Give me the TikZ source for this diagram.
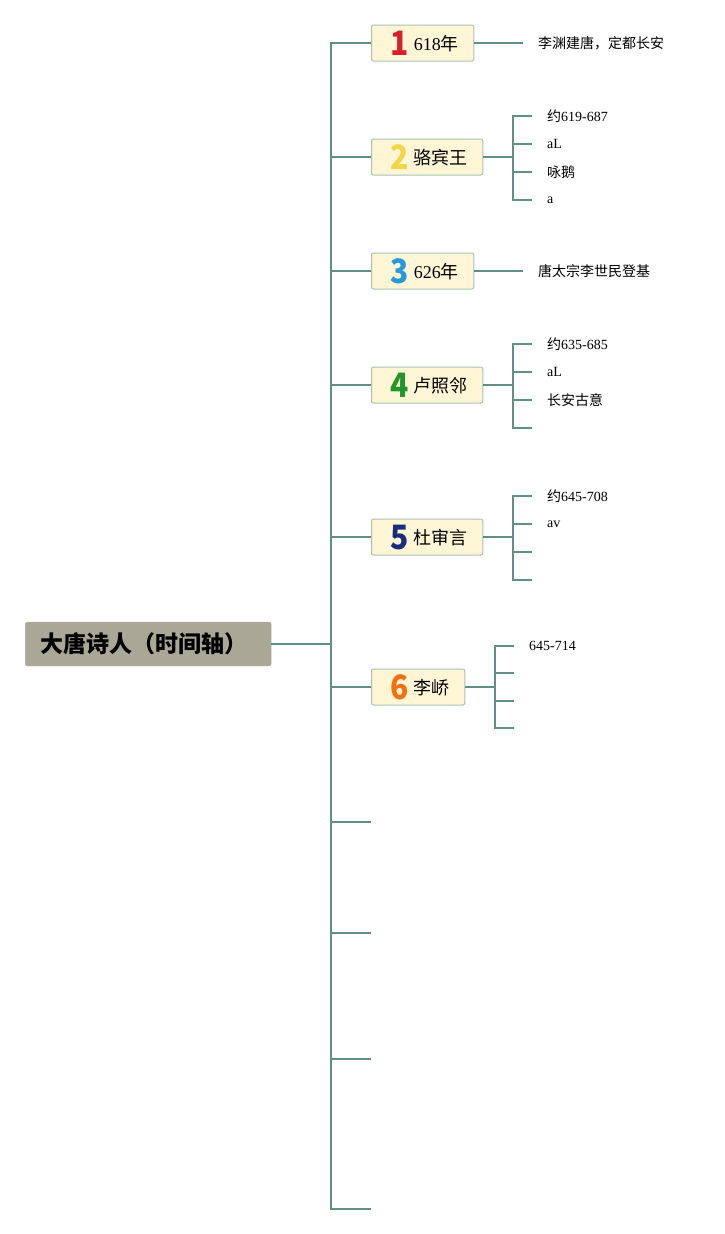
\documentclass[tikz,border=0pt]{standalone}
\usepackage{fontspec}
\usepackage{xcolor}
\setmainfont{Liberation Serif}
\newfontfamily\cjk{Noto Sans CJK SC}
\newcommand{\zh}[1]{{\cjk #1}}
\newcommand{\badge}[2]{\hspace{4pt}\smash{\raisebox{-4.5pt}{\scalebox{1}[1.12]{\cjk\bfseries\fontsize{30}{30}\selectfont\color{#1}#2}}}\hspace{5pt}}
\definecolor{branchline}{HTML}{5F8F86}
\definecolor{rootfill}{HTML}{A9A897}
\definecolor{boxfill}{HTML}{FFF6D6}
\definecolor{boxline}{HTML}{A5C2B3}
\definecolor{numA}{HTML}{D8202C}
\definecolor{numB}{HTML}{F4D449}
\definecolor{numC}{HTML}{2898D6}
\definecolor{numD}{HTML}{22962A}
\definecolor{numE}{HTML}{1C2C7C}
\definecolor{numF}{HTML}{F5700F}

\begin{document}
\begin{tikzpicture}[x=1pt,y=-1pt,
            root/.style={rectangle, draw=rootfill!80!white, fill=rootfill, rounded corners=2pt, anchor=west, text width=216pt, align=left, inner xsep=15pt, minimum height=44pt, font=\cjk\bfseries\fontsize{23}{23}\selectfont},
            poet/.style={rectangle, draw=boxline, fill=boxfill, rounded corners=2pt, anchor=west, inner xsep=15pt, inner ysep=0pt, text height=16pt, text depth=1pt, minimum height=36pt, line width=1pt, font=\fontsize{18}{18}\selectfont},
            leaf/.style={anchor=west, inner xsep=15pt, inner ysep=0pt, font=\fontsize{14}{14}\selectfont},
            branch/.style={draw=branchline, line width=2pt}
        ]
            \useasboundingbox (0,0) rectangle (724,1234);

            % Root
            \node[root] (root) at (25,644) {大唐诗人（时间轴）};
            \coordinate (trunk) at (331,644);

            % Poets and years
            \node[poet] (p1) at (371,43) {\badge{numA}{1}618\zh{年}};
            \node[poet] (p2) at (371,157) {\badge{numB}{2}\zh{骆宾王}};
            \node[poet] (p3) at (371,271) {\badge{numC}{3}626\zh{年}};
            \node[poet] (p4) at (371,385) {\badge{numD}{4}\zh{卢照邻}};
            \node[poet] (p5) at (371,537) {\badge{numE}{5}\zh{杜审言}};
            \node[poet] (p6) at (371,687) {\badge{numF}{6}\zh{李峤}};

            % Empty branches
            \coordinate (e7) at (371,822);
            \coordinate (e8) at (371,933);
            \coordinate (e9) at (371,1059);
            \coordinate (e10) at (371,1209);

            % Leaves
            \node[leaf] (l1) at (523,43) {\zh{李渊建唐，定都长安}};

            \node[leaf] (l2a) at (532,116) {\zh{约}619-687};
            \node[leaf] (l2b) at (532,144) {aL};
            \node[leaf] (l2c) at (532,172) {\zh{咏鹅}};
            \node[leaf] (l2d) at (532,200) {a};

            \node[leaf] (l3) at (523,271) {\zh{唐太宗李世民登基}};

            \node[leaf] (l4a) at (532,344) {\zh{约}635-685};
            \node[leaf] (l4b) at (532,372) {aL};
            \node[leaf] (l4c) at (532,400) {\zh{长安古意}};
            \node[leaf] (l4d) at (532,428) {};

            \node[leaf] (l5a) at (532,496) {\zh{约}645-708};
            \node[leaf] (l5b) at (532,524) {av};
            \node[leaf] (l5c) at (532,552) {};
            \node[leaf] (l5d) at (532,580) {};

            \node[leaf] (l6a) at (514,646) {645-714};
            \node[leaf] (l6b) at (514,673) {};
            \node[leaf] (l6c) at (514,701) {};
            \node[leaf] (l6d) at (514,728) {};

            % Trunk
            \draw[branch] (root.east) -- (trunk);
            \draw[branch] (p1.west) -| (trunk |- e10) -- (e10);
            \foreach \n in {p2,p3,p4,p5,p6}
                \draw[branch] (trunk |- \n.west) -- (\n.west);
            \foreach \n in {e7,e8,e9}
                \draw[branch] (trunk |- \n) -- (\n);

            % Single leaves
            \draw[branch] (p1.east) -- (l1.west);
            \draw[branch] (p3.east) -- (l3.west);

            % Brackets
            \foreach \p/\l in {p2/l2, p4/l4, p5/l5, p6/l6} {
                \draw[branch] (\p.east) -- ++(30,0) coordinate (b);
                \draw[branch] (\l a.west) -| (b |- \l d.west) -- (\l d.west);
                \draw[branch] (b |- \l b.west) -- (\l b.west);
                \draw[branch] (b |- \l c.west) -- (\l c.west);
            }

        \end{tikzpicture}
\end{document}
